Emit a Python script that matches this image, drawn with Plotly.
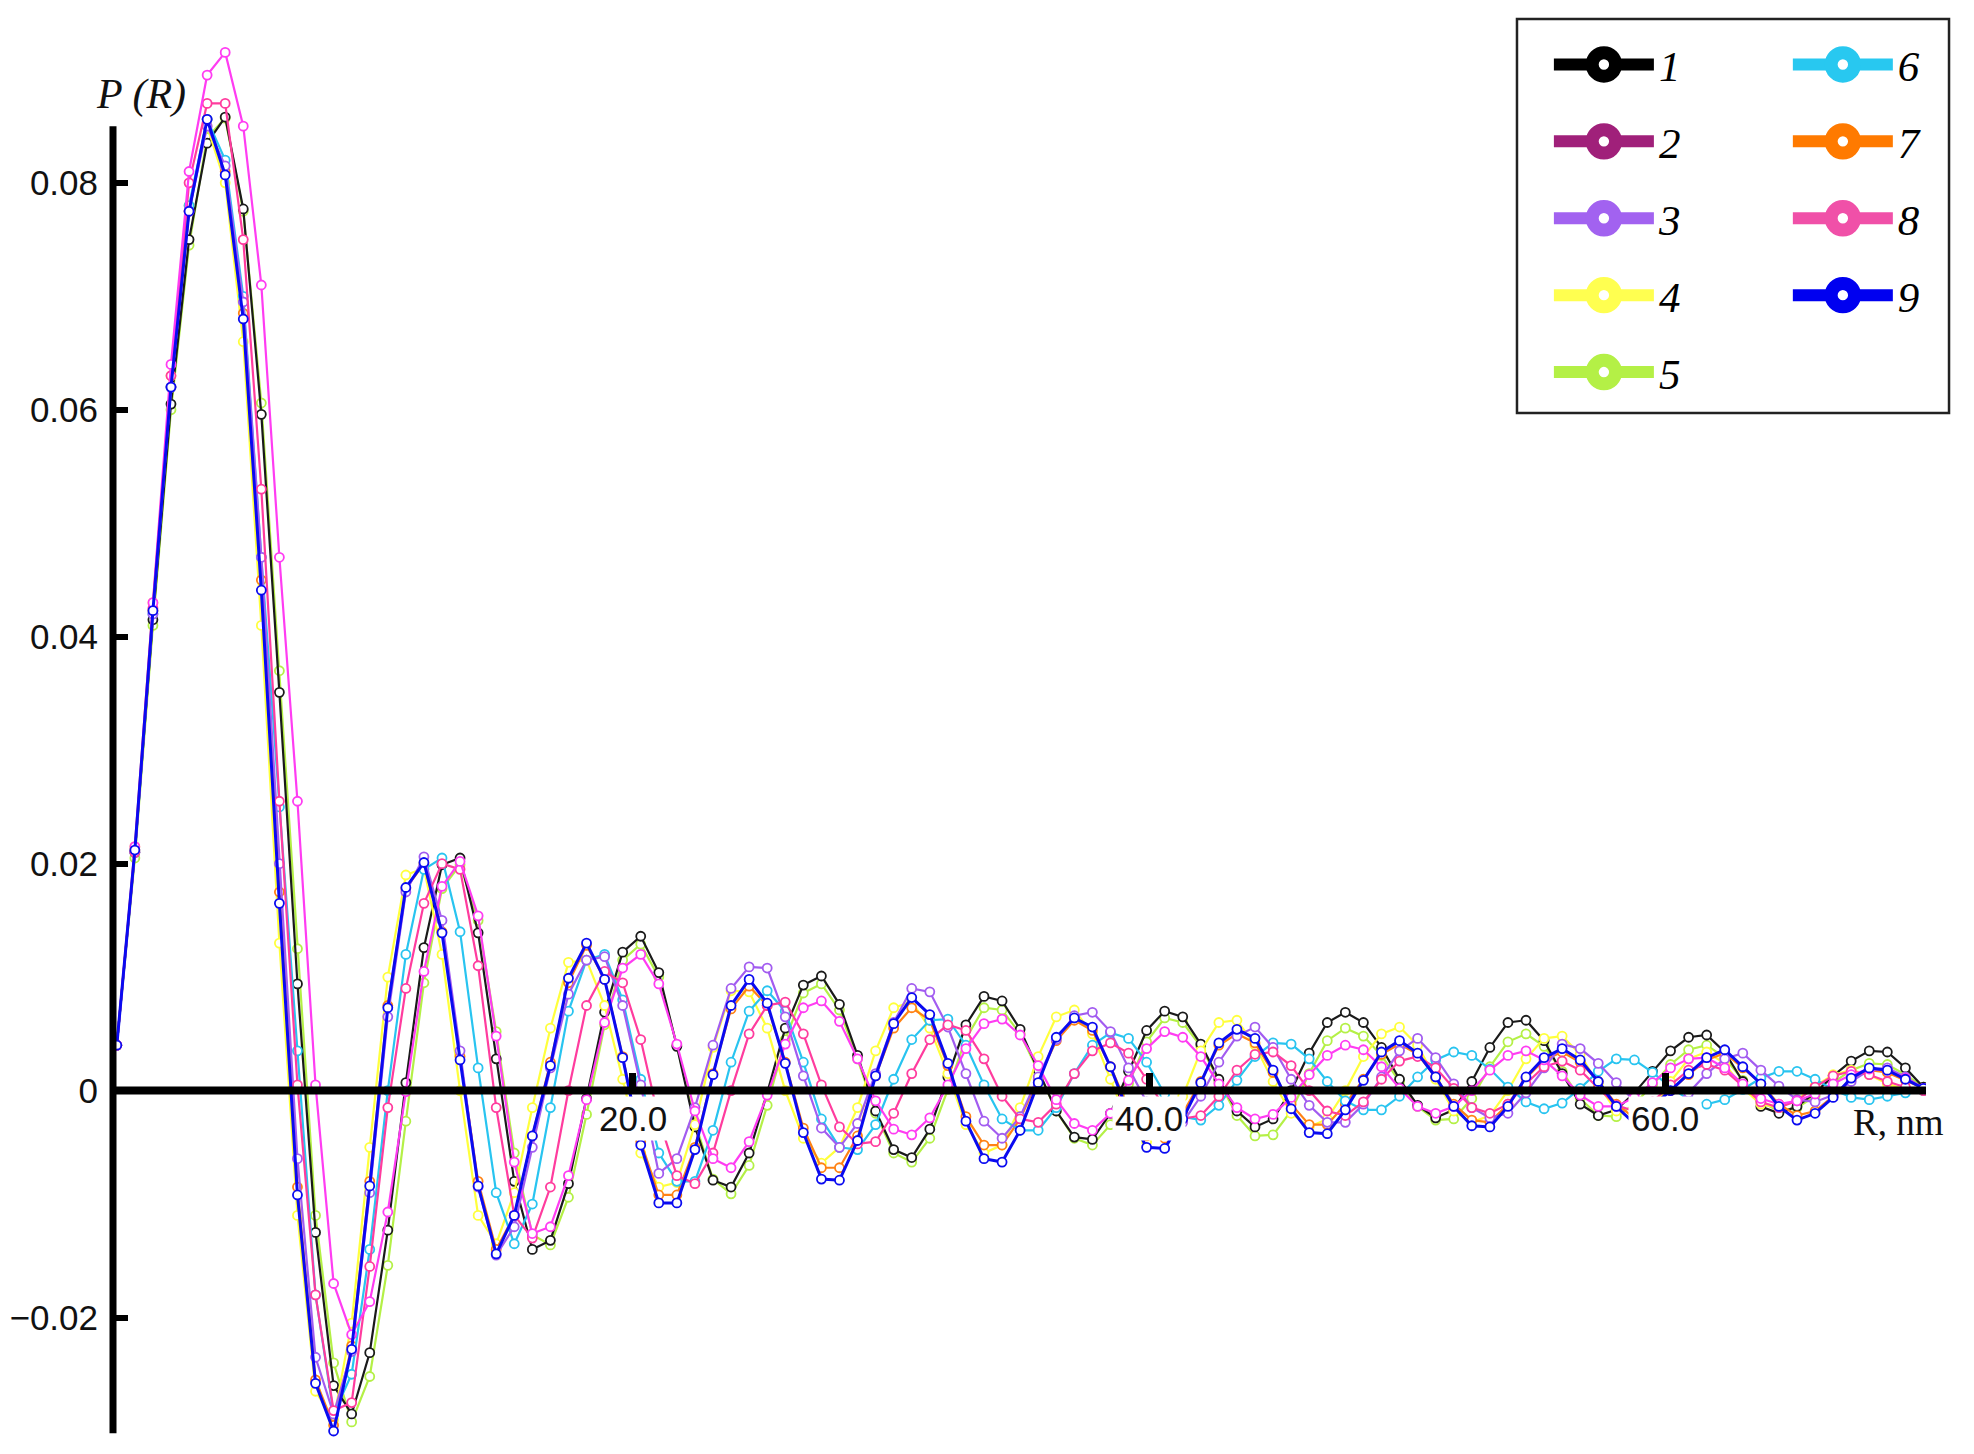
import numpy as np
import plotly.graph_objects as go

# ---------------- data (P(R) in units of 1e-3) ----------------
R_STEP_NM = 0.7
N_POINTS = 101
R = np.round(np.arange(N_POINTS) * R_STEP_NM, 2)

series_labels = ["1", "2", "3", "4", "5", "6", "7", "8", "9"]

p1 = [4.0, 21.0, 41.5, 60.5, 75.0, 83.5, 85.8, 77.7, 59.6, 35.1,
      9.4, -12.5, -26.0, -28.5, -23.1, -12.3, 0.7, 12.6, 19.9, 20.5,
      13.9, 2.8, -8.0, -14.0, -13.2, -8.2, -0.7, 6.9, 12.2, 13.6,
      10.4, 3.9, -3.2, -7.9, -8.5, -5.5, -0.2, 5.5, 9.3, 10.1,
      7.6, 3.1, -1.8, -5.2, -5.9, -3.4, 1.2, 5.8, 8.3, 7.9,
      5.4, 1.8, -1.8, -4.1, -4.3, -2.0, 1.7, 5.3, 7.0, 6.5,
      4.1, 1.0, -1.8, -3.2, -2.5, 0.0, 3.3, 6.0, 6.9, 6.0,
      3.8, 1.0, -1.3, -2.4, -1.7, 0.8, 3.8, 6.0, 6.2, 4.4,
      1.5, -1.2, -2.2, -1.7, -0.2, 1.7, 3.5, 4.7, 4.9, 3.4,
      0.8, -1.4, -2.0, -1.4, -0.2, 1.3, 2.6, 3.5, 3.4, 2.0,
      0.3]

p2 = [4.0, 21.5, 43.0, 64.0, 81.0, 89.5, 91.5, 85.0, 71.0, 47.0,
      25.5, 0.5, -17.0, -21.5, -18.6, -10.7, -0.1, 10.5, 18.0, 20.2,
      15.4, 4.8, -6.3, -12.6, -12.0, -7.5, -0.8, 6.0, 10.8, 12.0,
      9.4, 4.1, -1.8, -6.0, -6.8, -4.5, -0.4, 4.1, 7.3, 7.9,
      6.1, 2.8, -0.9, -3.4, -3.9, -2.4, 0.5, 3.7, 5.9, 6.3,
      4.9, 2.2, -0.8, -2.9, -3.5, -2.0, 0.9, 3.7, 5.2, 4.7,
      3.0, 0.6, -1.5, -2.5, -2.1, -0.6, 1.4, 3.1, 4.0, 3.6,
      2.1, 0.2, -1.4, -2.0, -1.4, 0.0, 1.8, 3.1, 3.5, 2.7,
      1.3, -0.4, -1.4, -1.4, -0.6, 0.7, 2.0, 2.8, 2.9, 2.0,
      0.6, -0.7, -1.2, -0.9, -0.3, 0.6, 1.4, 1.9, 1.8, 1.1,
      0.2]

p3 = [4.0, 21.0, 42.0, 62.0, 77.5, 85.0, 81.5, 69.5, 47.0, 20.0,
      -6.0, -23.5, -28.5, -23.0, -9.0, 6.5, 17.5, 20.6, 15.0, 3.5,
      -8.5, -14.5, -12.0, -5.0, 2.0, 8.5, 11.5, 11.8, 7.5, 0.5,
      -7.3, -6.0, -1.5, 4.0, 9.0, 10.9, 10.8, 6.5, 1.3, -3.3,
      -5.0, -2.9, 1.5, 6.0, 9.0, 8.7, 5.6, 1.5, -2.7, -4.2,
      -2.3, 1.2, 4.5, 6.6, 6.9, 5.2, 2.0, -1.0, -3.0, -2.8,
      -0.5, 2.5, 4.8, 5.6, 3.8, 1.0, -1.3, -2.8, -2.8, -1.2,
      1.2, 3.5, 4.6, 2.9, 0.6, -1.5, -2.4, -2.0, -0.2, 2.0,
      4.1, 3.7, 2.4, 0.7, -0.9, -1.7, -1.5, -0.2, 1.5, 2.8,
      3.3, 1.8, 0.4, -0.8, -1.0, -0.4, 0.8, 1.8, 2.0, 1.2,
      0.2]

p4 = [4.0, 21.5, 43.0, 63.0, 78.0, 85.0, 80.0, 66.0, 41.0, 13.0,
      -11.0, -26.5, -29.0, -20.5, -5.0, 10.0, 19.0, 19.6, 12.0, 0.0,
      -11.0, -13.5, -9.0, -1.5, 5.5, 11.3, 11.5, 7.5, 1.0, -5.5,
      -8.5, -8.1, -3.0, 3.8, 8.8, 8.7, 5.5, 0.0, -4.2, -6.4,
      -5.0, -1.5, 3.5, 7.3, 7.8, 5.5, 1.5, -3.0, -5.5, -4.8,
      -1.5, 3.0, 6.5, 7.1, 5.0, 1.0, -3.0, -4.5, -3.5, -0.5,
      3.5, 6.0, 6.2, 4.0, 0.8, -2.0, -3.2, -2.5, 0.0, 3.0,
      5.0, 5.6, 4.0, 1.0, -1.8, -2.8, -2.2, 0.0, 2.8, 4.6,
      4.8, 3.2, 0.5, -1.8, -2.5, -1.5, 0.8, 2.8, 3.4, 2.4,
      0.2, -1.2, -1.5, -0.8, 0.4, 1.4, 1.8, 1.4, 0.6, 0.1,
      0.0]

p5 = [4.0, 20.5, 41.0, 60.0, 74.5, 84.0, 85.7, 77.5, 60.6, 37.0,
      12.5, -11.0, -24.0, -29.2, -25.2, -15.4, -2.7, 9.5, 17.8, 19.9,
      15.0, 5.2, -5.5, -12.7, -13.6, -9.4, -2.1, 5.8, 11.5, 12.9,
      10.0, 4.0, -2.8, -7.8, -9.1, -6.6, -1.3, 4.5, 8.6, 9.4,
      7.1, 2.8, -2.0, -5.5, -6.3, -4.2, 0.1, 4.6, 7.3, 7.1,
      5.0, 1.7, -1.8, -4.2, -4.8, -3.0, 0.6, 4.3, 6.4, 6.0,
      3.9, 0.8, -2.2, -4.0, -3.9, -1.8, 1.5, 4.4, 5.5, 4.8,
      3.1, 0.8, -1.4, -2.6, -2.5, -0.7, 2.1, 4.3, 5.0, 3.9,
      1.7, -0.7, -2.2, -2.3, -1.2, 0.5, 2.3, 3.6, 4.0, 2.9,
      0.9, -1.0, -1.8, -1.5, -0.5, 0.7, 1.8, 2.4, 2.3, 1.4,
      0.3]

p6 = [4.0, 21.0, 42.0, 62.0, 78.0, 85.6, 82.0, 70.0, 47.0, 25.0,
      3.5, -18.0, -28.5, -25.0, -14.0, 0.0, 12.0, 19.5, 20.5, 14.0,
      2.0, -9.0, -13.5, -10.0, -1.5, 7.0, 11.5, 12.0, 8.0, 1.0,
      -5.5, -8.0, -8.0, -3.5, 2.5, 7.0, 8.8, 7.0, 2.5, -2.5,
      -5.0, -5.2, -3.0, 1.0, 4.5, 6.2, 6.3, 4.0, 0.5, -2.5,
      -3.5, -3.5, -1.5, 1.5, 4.0, 5.1, 4.6, 2.5, -0.3, -2.3,
      -2.6, -1.3, 0.9, 3.0, 4.2, 4.1, 2.8, 0.8, -0.9, -1.7,
      -1.7, -0.5, 1.2, 2.7, 3.4, 3.1, 1.9, 0.3, -1.0, -1.6,
      -1.1, 0.2, 1.7, 2.8, 2.7, 1.6, 0.3, -0.8, -1.2, -0.8,
      0.1, 1.1, 1.7, 1.7, 1.0, 0.1, -0.6, -0.8, -0.5, -0.2,
      0.0]

p7 = [4.0, 21.2, 42.3, 62.0, 77.5, 85.6, 81.0, 68.5, 45.0, 17.5,
      -8.5, -25.5, -29.5, -22.5, -8.0, 7.5, 17.8, 20.0, 14.0, 3.0,
      -8.0, -14.0, -11.0, -4.0, 2.5, 9.5, 12.8, 9.8, 3.0, -4.5,
      -9.2, -9.2, -5.0, 1.5, 7.2, 9.2, 7.5, 2.5, -3.3, -6.8,
      -6.8, -4.0, 1.3, 5.5, 7.3, 6.2, 2.2, -2.3, -4.8, -4.8,
      -2.5, 1.0, 4.4, 6.2, 5.3, 2.1, -1.5, -4.0, -4.2, -2.0,
      0.8, 4.0, 5.0, 4.2, 1.6, -1.2, -3.0, -3.0, -1.2, 1.0,
      3.2, 4.1, 3.2, 1.2, -1.2, -2.6, -2.8, -1.2, 1.1, 2.7,
      3.4, 2.5, 0.8, -1.2, -2.4, -1.2, 0.0, 1.4, 2.7, 3.3,
      2.0, 0.6, -1.2, -2.2, -1.8, -0.5, 1.0, 1.8, 1.6, 0.9,
      0.2]

p8 = [4.0, 21.0, 42.5, 63.0, 80.0, 87.0, 87.0, 75.0, 53.0, 25.5,
      0.5, -18.0, -28.2, -27.5, -15.5, -1.5, 9.0, 16.5, 20.0, 19.5,
      11.0, -1.5, -11.0, -13.0, -8.5, 0.0, 7.5, 10.5, 9.5, 4.5,
      -2.5, -7.5, -8.2, -5.5, 0.0, 5.0, 7.5, 7.8, 5.0, 0.5,
      -3.2, -4.7, -4.5, -2.0, 1.5, 4.5, 5.8, 5.3, 2.8, -0.5,
      -2.5, -2.8, -1.2, 1.5, 3.5, 4.2, 3.3, 1.0, -1.5, -2.5,
      -2.2, -0.5, 1.8, 3.2, 3.4, 2.2, 0.0, -1.8, -2.2, -1.0,
      1.0, 2.6, 3.0, 2.0, 0.2, -1.5, -2.0, -1.2, 0.6, 2.1,
      2.6, 1.8, 0.2, -1.3, -1.8, -1.0, 0.5, 1.8, 2.3, 1.8,
      0.4, -1.0, -1.5, -0.9, 0.3, 1.3, 1.7, 1.4, 0.8, 0.3,
      0.0]

p9 = [4.0, 21.2, 42.3, 62.0, 77.5, 85.6, 80.7, 68.0, 44.1, 16.5,
      -9.2, -25.8, -30.0, -22.8, -8.4, 7.3, 17.9, 20.1, 13.9, 2.7,
      -8.4, -14.4, -11.0, -4.0, 2.2, 9.9, 13.0, 9.8, 2.9, -4.8,
      -9.9, -9.9, -5.2, 1.4, 7.5, 9.8, 7.7, 2.4, -3.7, -7.8,
      -7.9, -4.4, 1.3, 5.9, 8.2, 6.7, 2.4, -2.7, -6.0, -6.3,
      -3.5, 0.7, 4.7, 6.4, 5.6, 2.1, -2.0, -5.0, -5.1, -2.5,
      0.7, 4.2, 5.4, 4.6, 1.8, -1.6, -3.7, -3.8, -1.7, 0.9,
      3.4, 4.4, 3.3, 1.2, -1.4, -3.1, -3.2, -1.4, 1.2, 2.9,
      3.7, 2.7, 0.8, -1.4, -2.9, -1.4, 0.0, 1.5, 2.9, 3.6,
      2.1, 0.6, -1.4, -2.6, -2.0, -0.6, 1.1, 2.0, 1.8, 1.0,
      0.2]

series_values = {"1": p1, "2": p2, "3": p3, "4": p4, "5": p5,
                 "6": p6, "7": p7, "8": p8, "9": p9}

# ---------------- styles ----------------
line_colors = {"1": "#1a1a1a", "2": "#ff3cf2", "3": "#a25cf0", "4": "#ffff3c",
               "5": "#b4f046", "6": "#28c4f0", "7": "#ff8214", "8": "#ff3c9e",
               "9": "#0a0af0"}
legend_colors = {"1": "#000000", "2": "#a0207a", "3": "#a262f0", "4": "#ffff50",
                 "5": "#b4f046", "6": "#28c8f0", "7": "#ff7a00", "8": "#f050a8",
                 "9": "#0000f0"}
line_widths = {k: 2.2 for k in series_labels}
line_widths["9"] = 3.0
draw_order = ["5", "1", "4", "7", "6", "3", "8", "2", "9"]

# axis geometry
X_RANGE = [-0.147, 70.098]
Y_RANGE = [-0.0315, 0.09453]
zero_pos = (0 - Y_RANGE[0]) / (Y_RANGE[1] - Y_RANGE[0])

fig = go.Figure()

for key in draw_order:
    vals = np.array(series_values[key], dtype=float) / 1000.0
    c = line_colors[key]
    fig.add_trace(go.Scatter(
        x=R[:len(vals)], y=vals, mode="lines+markers",
        line=dict(color=c, width=line_widths[key]),
        marker=dict(symbol="circle", size=9, color="white",
                    line=dict(color=c, width=1.8)),
        showlegend=False, hoverinfo="skip"))

# legend entries (two columns, like the reference)
for key in series_labels:
    c = legend_colors[key]
    fig.add_trace(go.Scatter(
        x=[None], y=[None], mode="lines+markers", name=key,
        legendgroup=key,
        legend="legend" if int(key) <= 5 else "legend2",
        line=dict(color=c, width=4),
        marker=dict(symbol="circle", size=9, color="white",
                    line=dict(color=c, width=5))))

legend_font = dict(family="Liberation Serif", size=43, color="black", style="italic")
tick_font = dict(family="Liberation Sans Narrow, Liberation Sans", size=35, color="#111111")

fig.update_layout(
    template="none",
    width=1966, height=1446,
    margin=dict(l=105, r=48, t=10, b=6),
    paper_bgcolor="white", plot_bgcolor="white",
    font=dict(family="Liberation Sans", color="#111111"),
    xaxis=dict(range=X_RANGE, showgrid=False, zeroline=False, showline=False,
               tickmode="array", tickvals=[20, 40, 60], ticks="inside",
               ticklen=18, tickwidth=7, tickcolor="black",
               showticklabels=False, anchor="free", position=zero_pos,
               automargin=False),
    yaxis=dict(range=Y_RANGE, showgrid=False, zeroline=False, showline=False,
               tick0=0, dtick=0.02, ticks="inside", ticklen=15, tickwidth=6,
               tickcolor="black", ticklabelstandoff=14, tickfont=tick_font,
               automargin=False),
    legend=dict(x=0.7920, y=0.9916, xanchor="left", yanchor="top",
                bgcolor="rgba(0,0,0,0)", borderwidth=0, font=legend_font,
                traceorder="grouped", tracegroupgap=18, itemwidth=100),
    legend2=dict(x=0.9238, y=0.9916, xanchor="left", yanchor="top",
                 bgcolor="rgba(0,0,0,0)", borderwidth=0, font=legend_font,
                 traceorder="grouped", tracegroupgap=18, itemwidth=100),
    shapes=[
        # zero line (R axis)
        dict(type="line", xref="paper", yref="y", x0=0, x1=1, y0=0, y1=0,
             line=dict(color="black", width=8), layer="above"),
        # P(R) axis line
        dict(type="line", xref="paper", yref="y", x0=0, x1=0, y0=-0.0302, y1=0.085,
             line=dict(color="black", width=7), layer="above"),
        # legend frame
        dict(type="rect", xref="paper", yref="paper", x0=0.7744, x1=1.0127,
             y0=0.7238, y1=0.9993, line=dict(color="#222222", width=2.5),
             fillcolor="rgba(0,0,0,0)", layer="above"),
    ],
    annotations=[
        dict(text="<i>P (R)</i>", xref="paper", yref="paper", x=0.0154, y=0.9462,
             xanchor="center", yanchor="middle", showarrow=False,
             font=dict(family="Liberation Serif", size=42, color="#111111")),
        dict(text="R, nm", xref="paper", yref="paper", x=0.9851, y=0.2273,
             xanchor="center", yanchor="middle", showarrow=False,
             font=dict(family="Liberation Serif", size=37, color="#111111")),
    ] + [
        dict(text=f"{v:.1f}", xref="x", yref="y", x=v, y=0, yanchor="top",
             xanchor="center", yshift=-5, showarrow=False, bgcolor="white",
             borderpad=2, font=tick_font)
        for v in [20, 40, 60]
    ],
)

# legend swatches drawn large (thick line + big ring), as in the reference
post_js = """
var gd = document.getElementById('{plot_id}');
function styleLegendSwatches() {
  var items = gd.querySelectorAll('g.traces');
  for (var i = 0; i < items.length; i++) {
    var it = items[i];
    var lines = it.querySelectorAll('g.legendlines path');
    for (var j = 0; j < lines.length; j++) { lines[j].style.strokeWidth = '12px'; }
    var sym = it.querySelector('g.legendsymbols');
    if (sym) {
      sym.style.transform = '';
      var bb = sym.getBBox();
      var cx = bb.x + bb.width / 2, cy = bb.y + bb.height / 2;
      sym.style.transform = 'translate(' + cx + 'px,' + cy + 'px) scale(2.6) translate(' +
                            (-cx) + 'px,' + (-cy) + 'px)';
    }
  }
}
styleLegendSwatches();
if (gd.on) { gd.on('plotly_afterplot', styleLegendSwatches); }
"""

fig.write_html("out.html", post_script=post_js)
